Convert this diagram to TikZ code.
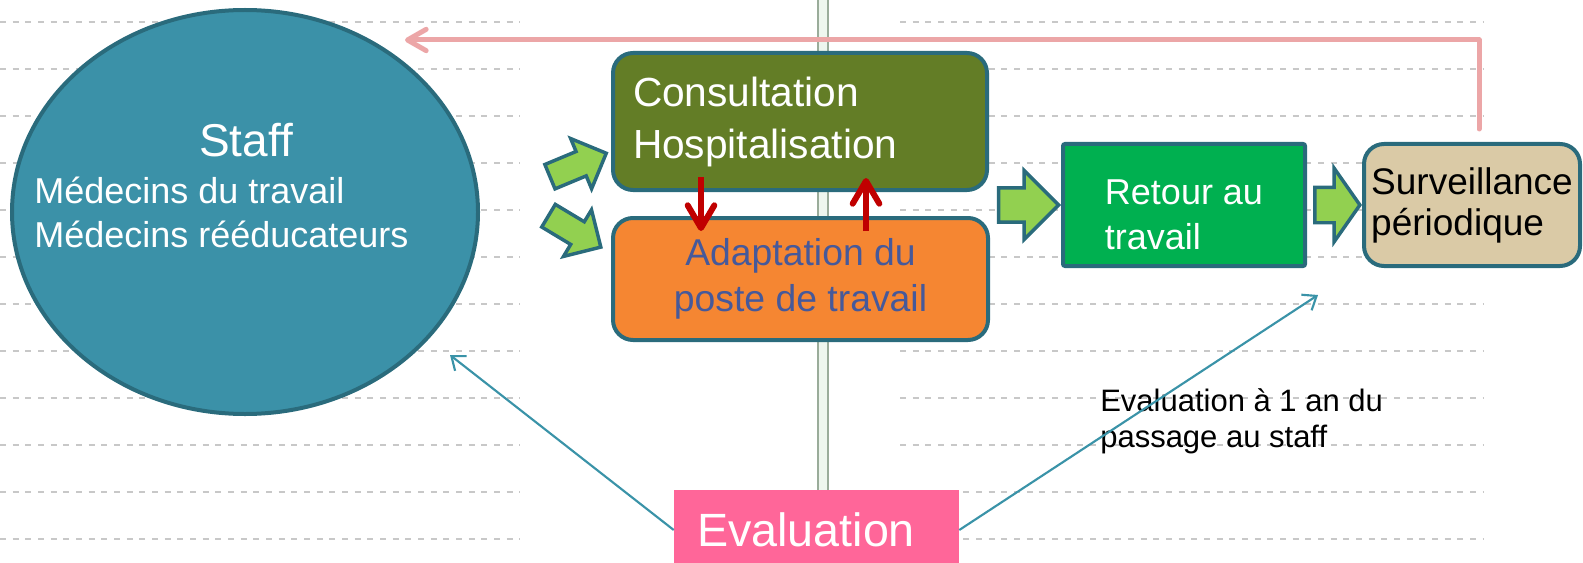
\documentclass[tikz,border=0pt]{standalone}
\usepackage{fontspec}
\setmainfont{Liberation Sans}
\usepackage{tikz}
\usetikzlibrary{positioning}
\usetikzlibrary{shapes.geometric}
\usetikzlibrary{shapes.arrows}
\usetikzlibrary{arrows.meta}

\definecolor{staffblue}{HTML}{3B91A8}
\definecolor{edgeteal}{HTML}{2A6B7C}
\definecolor{consolive}{HTML}{637D26}
\definecolor{adaporange}{HTML}{F58632}
\definecolor{adaptext}{HTML}{46599A}
\definecolor{darkred}{HTML}{C00000}
\definecolor{lightgreen}{HTML}{92D050}
\definecolor{retourgreen}{HTML}{00B050}
\definecolor{survtan}{HTML}{DACAA6}
\definecolor{backpink}{HTML}{ECA6A7}
\definecolor{evalpink}{HTML}{FF6699}
\definecolor{thinteal}{HTML}{3A93A8}
\definecolor{dashgray}{HTML}{C8C8C8}
\definecolor{railgray}{HTML}{9AAC9A}
\definecolor{railfill}{HTML}{EEF6EE}

\begin{document}
\begin{tikzpicture}[x=0.75pt, y=-0.75pt,
    box/.style={draw=edgeteal, line width=3pt, rounded corners=15pt},
    fatarrow/.style={single arrow, draw=edgeteal, fill=lightgreen, line width=2.6pt, inner xsep=0pt},
    redarrow/.style={draw=darkred, line width=4.5pt, -{Straight Barb[length=17pt,width=20pt,round]}},
    thinarrow/.style={draw=thinteal, line width=1.6pt, -{Straight Barb[length=9pt,width=14pt]}},
    bgline/.style={dashgray, line width=0.8pt, dash pattern=on 4.5pt off 5pt}]

    \useasboundingbox (0,0) rectangle (1583,563);

    % Background lines
    \foreach \y in {22,69,...,539} {
        \draw[bgline] (0,\y) -- (520,\y);
        \draw[bgline] (900,\y) -- (1483,\y);
    }
    \fill[railfill] (818,0) rectangle (828,490);
    \draw[railgray, line width=1.5pt] (818,0) -- (818,490) (828,0) -- (828,490);

    % Staff
    \node[ellipse, draw=edgeteal, fill=staffblue, line width=3pt, minimum width=349.5pt, minimum height=303pt] (staff) at (245,212) {};
    \node[text=white, font=\fontsize{34.5}{40}\selectfont] (stafftitle) at (246,140) {Staff};
    \node[text=white, align=left, anchor=west, inner sep=0pt, font=\fontsize{27}{33}\selectfont] (stafflist) at (34,212) {Médecins du travail\\Médecins rééducateurs};

    % Boxes
    \node[box, fill=consolive, text=white, align=left, text width=250.5pt, inner xsep=15pt, minimum height=102.75pt, font=\fontsize{30.5}{39}\selectfont] (cons) at (800,121.5) {Consultation\\Hospitalisation};
    \node[box, fill=adaporange, text=adaptext, align=center, minimum width=281.25pt, minimum height=91.5pt, font=\fontsize{28}{34.5}\selectfont] (adap) at (800.5,279) {Adaptation du\\poste de travail};
    \node[draw=edgeteal, line width=3pt, rounded corners=1.5pt, fill=retourgreen, text=white, align=left, minimum width=181.5pt, minimum height=91.5pt, font=\fontsize{27}{33.75}\selectfont] (retour) at (1184,205) {\rule{0pt}{33.75pt}Retour au\\travail};
    \node[box, fill=survtan, text=black, align=left, minimum width=162pt, minimum height=91.5pt, inner xsep=3pt, font=\fontsize{27.75}{30.75}\selectfont] (surv) at (1472,205) {Surveillance\\périodique};

    % Back to staff
    \coordinate (stafftop) at (405,40);
    \draw[backpink, line width=3.75pt, line cap=round, line join=round, -{Straight Barb[length=14pt,width=16pt,round]}] ([shift={(7,-13)}]surv.north) |- (stafftop);

    % Fat arrows
    \node[fatarrow, inner ysep=8.6pt, minimum height=45.75pt, single arrow head extend=10.5pt, rotate=22.6] (tocons) at (572,167.5) {};
    \node[fatarrow, inner ysep=8.6pt, minimum height=45.75pt, single arrow head extend=10.5pt, rotate=-31] (toadap) at (569,228) {};
    \node[fatarrow, inner ysep=11.6pt, minimum height=45pt, single arrow head extend=13pt, anchor=tip] (toretour) at (retour.west) {};
    \node[fatarrow, inner ysep=12pt, minimum height=33.75pt, single arrow head extend=14.25pt, single arrow tip angle=110, anchor=tip] (tosurv) at (surv.west) {};

    % Between consultation and adaptation
    \draw[redarrow] ([shift={(90,-15)}]cons.south west) -- ([shift={(90,15)}]adap.north west);
    \draw[redarrow] ([shift={(255,15)}]adap.north west) -- ([shift={(255,-14)}]cons.south west);

    % Evaluation
    \node[fill=evalpink, text=white, align=left, text width=179.25pt, inner xsep=17.25pt, minimum height=60pt, font=\fontsize{35}{42}\selectfont] (eval) at (816.5,530) {Evaluation};
    \node[align=left, anchor=north west, inner sep=0pt, font=\fontsize{23.25}{27}\selectfont] (evalnote) at (1100,388) {Evaluation à 1 an du\\passage au staff};

    \coordinate (staffend) at (450,355);
    \coordinate (survend) at (1318,295);
    \draw[thinarrow] (eval.west) -- (staffend);
    \draw[thinarrow] (eval.east) -- (survend);
\end{tikzpicture}
\end{document}
